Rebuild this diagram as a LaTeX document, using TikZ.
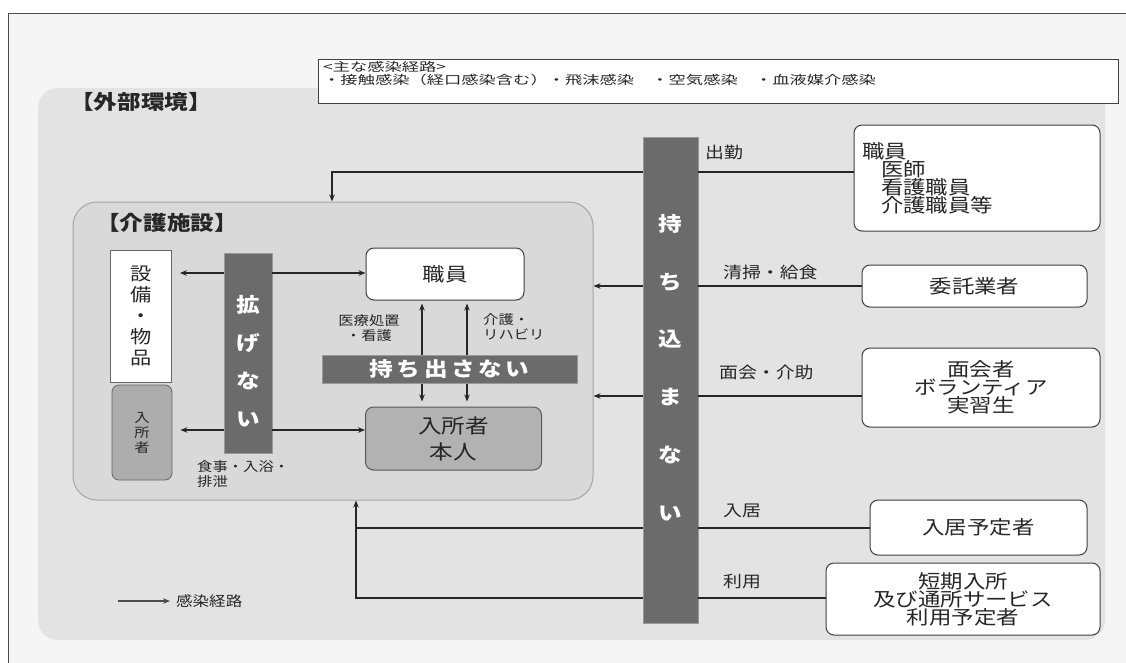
\documentclass[tikz,border=0pt]{standalone}
\usepackage{fontspec}
\setmainfont{Noto Sans CJK JP}[FakeStretch=1.18]
\usetikzlibrary{arrows.meta}
\tikzset{
  rbox/.style={draw=black!75, line width=1pt, rounded corners=8pt, fill=white, inner sep=0pt,
    font=\fontsize{19}{18}\selectfont, align=center, text=black!85},
  darkbar/.style={fill=black!58, draw=black!40, line width=0.6pt, inner sep=0pt},
  bartext/.style={text=white, font=\bfseries\fontsize{20}{20}\selectfont, inner sep=0pt, align=center},
  route/.style={line width=1.4pt, draw=black!85, -{Stealth[length=7pt,width=5.5pt]}},
  dual/.style={line width=1.4pt, draw=black!85, {Stealth[length=7pt,width=5.5pt]}-{Stealth[length=7pt,width=5.5pt]}},
  plain/.style={line width=1.4pt, draw=black!85},
  lab/.style={font=\fontsize{16}{16}\selectfont, anchor=west, inner sep=0pt, text=black!85},
  small/.style={font=\fontsize{13}{15}\selectfont, inner sep=0pt, text=black!85},
}
\begin{document}
\begin{tikzpicture}[x=1pt,y=-1pt]
\useasboundingbox (0,0) rectangle (1126,662);
\fill[white] (0,0) rectangle (1126,662);
% outer frame
\draw[black!70, line width=1pt, fill=black!4] (8,13) rectangle (1132,670);
% outer environment region
\node[fill=black!11, rounded corners=20pt, minimum width=1067pt, minimum height=552pt, inner sep=0pt] (env) at (571.5,364) {};
\node[font=\bfseries\fontsize{20}{20}\selectfont, anchor=west, inner sep=0pt, text=black!85] (envlabel) at (70,102) {【外部環境】};
% legend of routes
\node[draw=black!75, line width=1pt, fill=white, minimum width=800pt, minimum height=44pt, inner sep=0pt] (routes) at (718,81) {};
\node[anchor=north west, inner sep=0pt, align=left, font=\fontsize{12}{13}\selectfont, text=black!85] (routesText) at (323,61)
  {\scalebox{1.22}[1]{<主な感染経路>}\\\scalebox{1.22}[1]{・接触感染（経口感染含む）・飛沫感染　・空気感染　・血液媒介感染}};
% facility
\node[fill=black!15, draw=black!35, line width=1pt, rounded corners=24pt, minimum width=520pt, minimum height=298pt, inner sep=0pt] (fac) at (333,351) {};
\node[font=\bfseries\fontsize{20}{20}\selectfont, anchor=west, inner sep=0pt, text=black!85] (faclabel) at (96,223) {【介護施設】};
% equipment and residents
\node[draw=black!60, line width=0.8pt, fill=white, minimum width=61pt, minimum height=132pt, inner sep=0pt,
  font=\fontsize{18}{21}\selectfont, align=center, text=black!85] (equip) at (141,316) {設\\備\\・\\物\\品};
\node[draw=black!60, line width=0.8pt, fill=black!32, rounded corners=7pt, minimum width=60pt, minimum height=95pt, inner sep=0pt,
  font=\fontsize{13}{15}\selectfont, align=center, text=black!85] (resSmall) at (142,432.5) {入\\所\\者};
% inner staff and residents
\node[rbox, minimum width=158pt, minimum height=52pt] (staffIn) at (445,274) {職員};
\node[rbox, fill=black!30, draw=black!65, minimum width=176pt, minimum height=63pt, font=\fontsize{20}{26}\selectfont] (resident) at (453.5,438.5) {入所者\\本人};
% vertical arrows between staff and residents
\coordinate (ax1) at (422,0);
\coordinate (ax2) at (467,0);
\draw[dual, shorten <=3pt, shorten >=5pt] (staffIn.south -| ax1) -- (resident.north -| ax1);
\draw[dual, shorten <=3pt, shorten >=5pt] (staffIn.south -| ax2) -- (resident.north -| ax2);
% do not take out
\node[darkbar, minimum width=255pt, minimum height=28pt] (outBar) at (449.5,369) {};
\node[bartext] (outText) at (outBar.center) {\addfontfeature{LetterSpace=18}持ち出さない};
\node[small, align=center] (medLab) at (369,328) {医療処置\\・看護};
\node[small, align=left, anchor=north west] (careLab) at (483,313) {介護・\\リハビリ};
% do not spread
\node[darkbar, minimum width=48pt, minimum height=200pt] (spreadBar) at (248,353) {};
\node[bartext, font=\bfseries\fontsize{20}{38}\selectfont] (spreadText) at (248,361) {拡\\げ\\な\\い};
\coordinate (hy1) at (0,273);
\coordinate (hy2) at (0,430);
\draw[route, shorten >=8pt] (spreadBar.west |- hy1) -- (equip.east |- hy1);
\draw[route] (spreadBar.east |- hy1) -- (staffIn.west |- hy1);
\draw[route, shorten >=8pt] (spreadBar.west |- hy2) -- (resSmall.east |- hy2);
\draw[route] (spreadBar.east |- hy2) -- (resident.west |- hy2);
\node[small, align=left, anchor=north west] (mealLab) at (197,460) {食事・入浴・\\排泄};
% do not bring in
\node[darkbar, minimum width=55pt, minimum height=486pt] (inBar) at (670.5,380) {};
\node[bartext, font=\bfseries\fontsize{20}{57.8}\selectfont] (inText) at (670.5,367.5) {持\\ち\\込\\ま\\な\\い};
% external sources
\node[rbox, minimum width=246pt, minimum height=106pt, text width=230pt, inner xsep=8pt, align=left] (staffOut) at (977,178)
  {職員\\\hspace*{1em}医師\\\hspace*{1em}看護職員\\\hspace*{1em}介護職員等};
\node[rbox, minimum width=225pt, minimum height=42pt] (contractor) at (974.5,286) {委託業者};
\node[rbox, minimum width=238pt, minimum height=79pt] (visitor) at (981,387.5) {面会者\\ボランティア\\実習生};
\node[rbox, minimum width=217pt, minimum height=55pt] (newres) at (978.5,527.5) {入居予定者};
\node[rbox, minimum width=274pt, minimum height=72pt] (shortres) at (963,599) {短期入所\\及び通所サービス\\利用予定者};
% labels
\node[lab] (l1) at (705,152) {出勤};
\node[lab] (l2) at (723,272) {清掃・給食};
\node[lab] (l3) at (719,372) {面会・介助};
\node[lab] (l4) at (723,511) {入居};
\node[lab] (l5) at (723,581) {利用};
% routes
\coordinate (y1) at (0,172);
\coordinate (c1) at (332,172);
\draw[plain] (staffOut.west |- y1) -- (inBar.east |- y1);
\draw[route] (inBar.west |- y1) -- (c1) -- (fac.north -| c1);
\coordinate (y2) at (0,286);
\draw[plain] (contractor.west |- y2) -- (inBar.east |- y2);
\draw[route] (inBar.west |- y2) -- (fac.east |- y2);
\coordinate (y3) at (0,396);
\draw[plain] (visitor.west |- y3) -- (inBar.east |- y3);
\draw[route] (inBar.west |- y3) -- (fac.east |- y3);
\coordinate (y4) at (0,528);
\coordinate (c4) at (356,528);
\draw[plain] (newres.west |- y4) -- (inBar.east |- y4);
\draw[plain] (inBar.west |- y4) -- (c4);
\coordinate (y5) at (0,598);
\coordinate (c5) at (356,598);
\draw[plain] (shortres.west |- y5) -- (inBar.east |- y5);
\draw[route] (inBar.west |- y5) -- (c5) -- (fac.south -| c5);
% legend
\coordinate (lg) at (118,601);
\node[small, anchor=west, font=\fontsize{14}{14}\selectfont] (lgText) at (176,601) {感染経路};
\draw[route, line width=2pt, draw=black!70, shorten >=6pt] (lg) -- (lgText.west);
\end{tikzpicture}
\end{document}
